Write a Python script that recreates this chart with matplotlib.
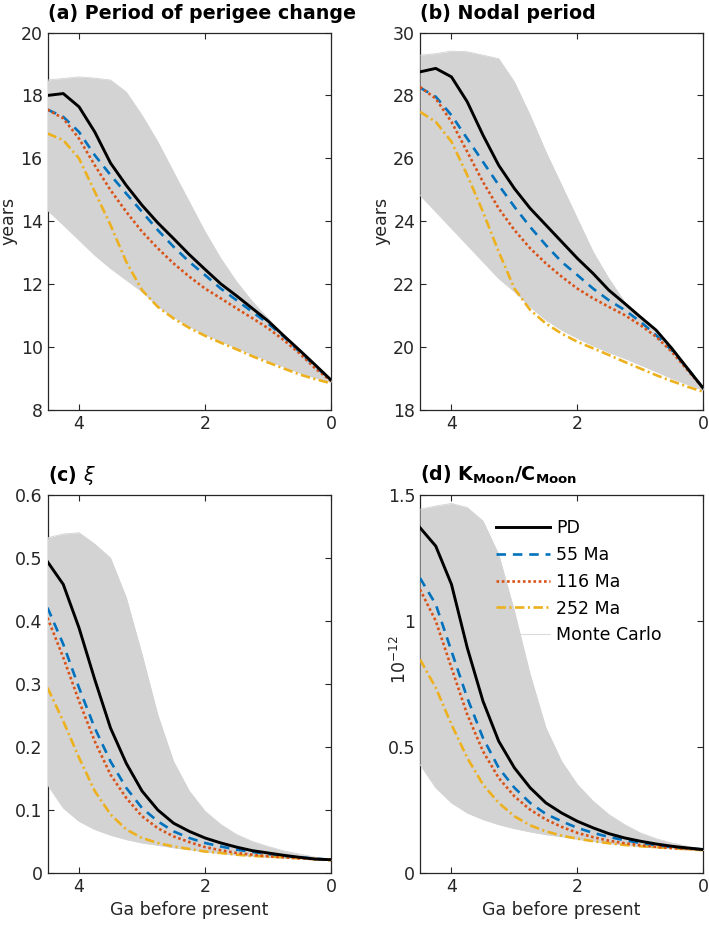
import numpy as np
import matplotlib
matplotlib.use('Agg')
import matplotlib.pyplot as plt
from matplotlib.ticker import FormatStrFormatter

# time axis, Ga before present
ga = [4.5, 4.25, 4.0, 3.75, 3.5, 3.25, 3.0, 2.75, 2.5, 2.25,
      2.0, 1.75, 1.5, 1.25, 1.0, 0.75, 0.5, 0.25, 0.0]

# (a) period of perigee change, years
a_pd = [18.0, 18.06, 17.64, 16.84, 15.85, 15.14, 14.51, 13.95, 13.45, 12.94,
        12.47, 12.01, 11.63, 11.23, 10.83, 10.36, 9.9, 9.43, 8.95]
a_55 = [17.55, 17.32, 16.84, 16.1, 15.47, 14.88, 14.3, 13.72, 13.19, 12.71,
        12.29, 11.86, 11.49, 11.12, 10.75, 10.33, 9.85, 9.38, 8.95]
a_116 = [17.55, 17.27, 16.63, 15.78, 14.99, 14.3, 13.67, 13.14, 12.66, 12.24,
         11.86, 11.55, 11.23, 10.92, 10.6, 10.22, 9.8, 9.32, 8.92]
a_252 = [16.79, 16.58, 16.0, 14.94, 13.88, 12.71, 11.81, 11.28, 10.91, 10.61,
         10.36, 10.14, 9.93, 9.71, 9.51, 9.32, 9.13, 8.98, 8.85]
a_mc_hi = [18.49, 18.54, 18.59, 18.55, 18.49, 18.11, 17.37, 16.53, 15.57, 14.62,
           13.67, 12.82, 12.08, 11.45, 10.91, 10.38, 9.9, 9.43, 8.95]
a_mc_lo = [14.35, 13.88, 13.4, 12.92, 12.5, 12.13, 11.76, 11.3, 10.95, 10.65,
           10.4, 10.18, 9.97, 9.76, 9.56, 9.37, 9.18, 9.02, 8.88]

# (b) nodal period, years
b_pd = [28.75, 28.86, 28.59, 27.8, 26.74, 25.78, 25.04, 24.41, 23.88, 23.35,
        22.82, 22.34, 21.81, 21.39, 20.96, 20.54, 19.96, 19.32, 18.69]
b_55 = [28.25, 27.96, 27.37, 26.63, 25.89, 25.15, 24.46, 23.82, 23.24, 22.71,
        22.29, 21.86, 21.49, 21.18, 20.81, 20.38, 19.9, 19.32, 18.69]
b_116 = [28.27, 27.9, 27.16, 26.21, 25.25, 24.41, 23.72, 23.14, 22.66, 22.24,
         21.86, 21.55, 21.28, 21.02, 20.7, 20.33, 19.85, 19.27, 18.69]
b_252 = [27.48, 27.16, 26.53, 25.47, 24.3, 23.03, 21.86, 21.18, 20.75, 20.43,
         20.17, 19.96, 19.75, 19.53, 19.32, 19.11, 18.92, 18.74, 18.58]
b_mc_hi = [29.28, 29.33, 29.41, 29.39, 29.28, 29.17, 28.43, 27.37, 26.21, 25.15,
           24.09, 23.03, 22.18, 21.44, 20.91, 20.43, 19.96, 19.38, 18.69]
b_mc_lo = [24.83, 24.3, 23.77, 23.24, 22.71, 22.18, 21.76, 21.28, 20.86, 20.54,
           20.28, 20.04, 19.83, 19.64, 19.43, 19.22, 19.0, 18.81, 18.63]

# (c) xi
c_pd = [0.494, 0.458, 0.389, 0.307, 0.23, 0.174, 0.130, 0.100, 0.079, 0.066,
        0.0555, 0.0476, 0.041, 0.0354, 0.0317, 0.028, 0.0248, 0.022, 0.021]
c_55 = [0.421, 0.363, 0.294, 0.230, 0.177, 0.135, 0.103, 0.082, 0.066, 0.0555,
        0.0476, 0.042, 0.037, 0.0333, 0.030, 0.027, 0.0248, 0.0227, 0.021]
c_116 = [0.405, 0.342, 0.273, 0.209, 0.156, 0.119, 0.090, 0.071, 0.058, 0.049,
         0.041, 0.036, 0.0317, 0.029, 0.0264, 0.0248, 0.0232, 0.022, 0.021]
c_252 = [0.294, 0.241, 0.183, 0.130, 0.093, 0.069, 0.0555, 0.0476, 0.042, 0.038,
         0.034, 0.0317, 0.029, 0.027, 0.0259, 0.0248, 0.0232, 0.022, 0.020]
c_mc_hi = [0.532, 0.538, 0.540, 0.522, 0.50, 0.437, 0.347, 0.251, 0.177, 0.130,
           0.098, 0.077, 0.061, 0.050, 0.042, 0.035, 0.030, 0.025, 0.021]
c_mc_lo = [0.140, 0.103, 0.082, 0.069, 0.060, 0.053, 0.0476, 0.044, 0.040, 0.037,
           0.0335, 0.031, 0.0285, 0.0265, 0.0252, 0.024, 0.0228, 0.0217, 0.020]

# (d) K_Moon / C_Moon, 1e-12
d_pd = [1.370, 1.297, 1.145, 0.894, 0.682, 0.523, 0.417, 0.338, 0.278, 0.238,
        0.205, 0.179, 0.156, 0.139, 0.126, 0.115, 0.106, 0.099, 0.093]
d_55 = [1.17, 1.066, 0.880, 0.695, 0.536, 0.417, 0.338, 0.278, 0.234, 0.205,
        0.179, 0.159, 0.143, 0.130, 0.119, 0.110, 0.103, 0.098, 0.093]
d_116 = [1.125, 1.0, 0.814, 0.629, 0.483, 0.377, 0.304, 0.251, 0.212, 0.183,
         0.159, 0.142, 0.128, 0.118, 0.110, 0.103, 0.099, 0.095, 0.093]
d_252 = [0.847, 0.735, 0.589, 0.457, 0.351, 0.278, 0.225, 0.189, 0.165, 0.148,
         0.136, 0.126, 0.118, 0.111, 0.106, 0.102, 0.098, 0.094, 0.090]
d_mc_hi = [1.443, 1.456, 1.466, 1.45, 1.397, 1.264, 1.039, 0.788, 0.576, 0.443,
           0.351, 0.285, 0.232, 0.192, 0.159, 0.136, 0.119, 0.106, 0.093]
d_mc_lo = [0.430, 0.338, 0.278, 0.238, 0.212, 0.192, 0.176, 0.163, 0.152, 0.144,
           0.134, 0.125, 0.117, 0.110, 0.105, 0.101, 0.097, 0.093, 0.089]

blue = '#0072BD'
red = '#D95319'
yellow = '#EDB120'
grey = '#d3d3d3'
axcol = '#262626'

fig = plt.figure(figsize=(7.09, 9.27), dpi=100)

boxes = [[0.067, 0.5577, 0.400, 0.4072],
         [0.5924, 0.5577, 0.3995, 0.4072],
         [0.067, 0.0583, 0.400, 0.4078],
         [0.5924, 0.0583, 0.3995, 0.4078]]

panels = [
    (a_pd, a_55, a_116, a_252, a_mc_hi, a_mc_lo, '(a) Period of perigee change', (8, 20), np.arange(8, 21, 2), 'years'),
    (b_pd, b_55, b_116, b_252, b_mc_hi, b_mc_lo, '(b) Nodal period', (18, 30), np.arange(18, 31, 2), 'years'),
    (c_pd, c_55, c_116, c_252, c_mc_hi, c_mc_lo, r'(c) $\xi$', (0, 0.6), np.arange(0, 0.61, 0.1), None),
    (d_pd, d_55, d_116, d_252, d_mc_hi, d_mc_lo, r'(d) $\mathbf{K_{Moon}/C_{Moon}}$', (0, 1.5), [0, 0.5, 1, 1.5], r'10$^{-12}$'),
]

lw = 1.9
for i, (pd_, m55, m116, m252, hi, lo, title, ylim, yt, ylab) in enumerate(panels):
    ax = fig.add_axes(boxes[i])
    # Monte Carlo spread drawn above the spines, like the MATLAB original
    ax.fill_between(ga, lo, hi, color=grey, lw=0, zorder=2.6)
    mc, = ax.plot(ga, hi, color=grey, lw=0.6, zorder=2.6, label='Monte Carlo')
    ax.plot(ga, lo, color=grey, lw=0.6, zorder=2.6)
    l1, = ax.plot(ga, pd_, color='black', lw=lw + 0.2, zorder=3.4, label='PD')
    l2, = ax.plot(ga, m55, color=blue, lw=lw, ls=(0, (3.6, 2.6)), zorder=3.1, label='55 Ma')
    l3, = ax.plot(ga, m116, color=red, lw=lw, ls=(0, (1, 1)), zorder=3.2, label='116 Ma')
    l4, = ax.plot(ga, m252, color=yellow, lw=lw, ls=(0, (3.6, 1.3, 0.8, 1.3)), zorder=3.0, label='252 Ma')

    ax.set_xlim(4.5, 0)
    ax.set_ylim(*ylim)
    ax.set_xticks([4, 2, 0])
    ax.set_yticks(yt)
    ax.yaxis.set_major_formatter(FormatStrFormatter('%g'))
    ax.tick_params(direction='in', top=True, right=True, length=4, width=0.8,
                   labelsize=12.5, colors=axcol)
    for s in ax.spines.values():
        s.set_color(axcol)
        s.set_linewidth(0.9)
    ax.set_title(title, loc='left', fontsize=13.7, fontweight='bold', pad=10)
    if ylab:
        ax.set_ylabel(ylab, fontsize=12.5, color=axcol, labelpad=2)
    if i >= 2:
        ax.set_xlabel('Ga before present', fontsize=12.5, color=axcol)
    if i == 3:
        ax.yaxis.set_label_coords(-0.035, 0.565)
        ax.legend(handles=[l1, l2, l3, l4, mc], loc='upper left',
                  bbox_to_anchor=(0.27, 0.935), frameon=False, fontsize=12.5,
                  handlelength=3.1, handletextpad=0.35, labelspacing=0.5,
                  borderaxespad=0, borderpad=0)

fig.savefig('out.png', dpi=100)
